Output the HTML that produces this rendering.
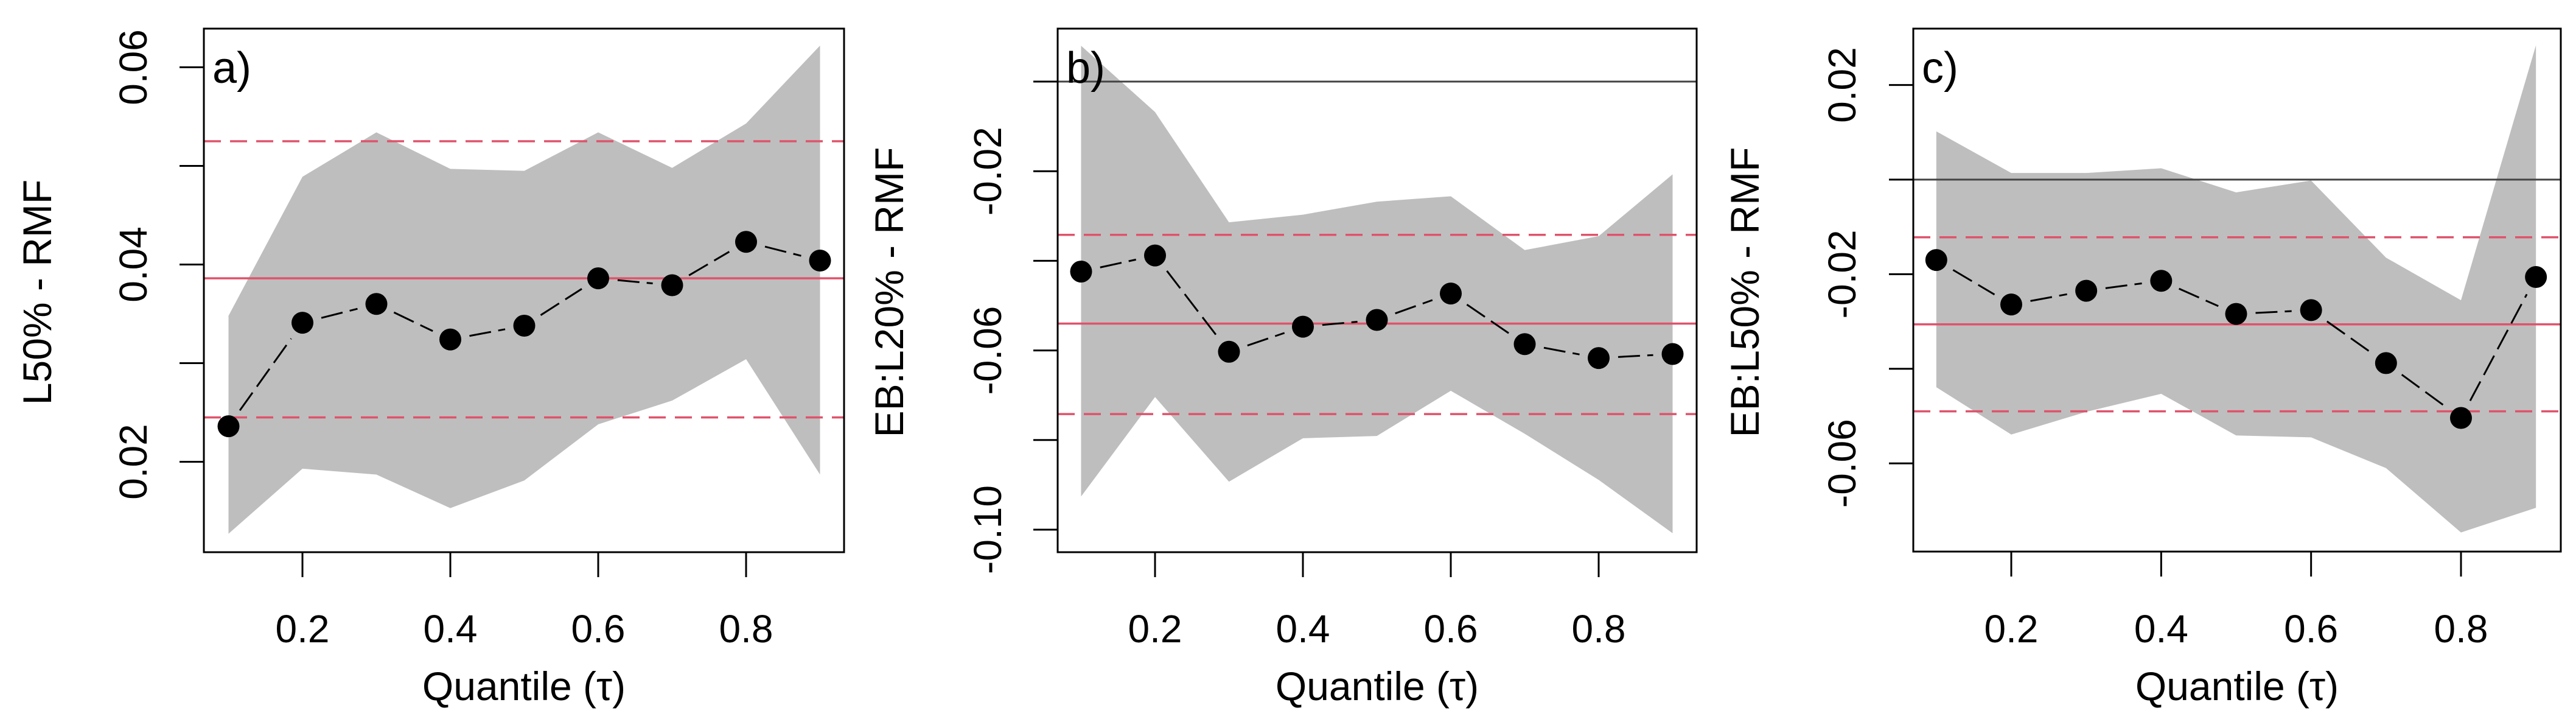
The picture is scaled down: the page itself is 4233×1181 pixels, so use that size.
<!DOCTYPE html>
<html><head><meta charset="utf-8"><style>
html,body{margin:0;padding:0;background:#fff;overflow:hidden}
svg{display:block;font-family:"Liberation Sans",Arial,sans-serif}
</style></head><body>
<svg id="fig" width="4233" height="1181" viewBox="0 0 4233 1181" xmlns="http://www.w3.org/2000/svg"></svg>
<script>
const quantiles=[0.1,0.2,0.3,0.4,0.5,0.6,0.7,0.8,0.9];
const xTickVals=[0.2,0.4,0.6,0.8];
const xTickLabels=["0.2","0.4","0.6","0.8"];
// panel a
const aEst=[0.0236,0.0341,0.0360,0.0324,0.0338,0.0386,0.0379,0.0423,0.0404];
const aUpper=[0.0348,0.0489,0.0534,0.0497,0.0495,0.0534,0.0498,0.0543,0.0622];
const aLower=[0.0127,0.0193,0.0187,0.0153,0.0181,0.0238,0.0262,0.0304,0.0187];
const aRef=[0.0386,0.0525,0.0245];
const aYTicks=[0.02,0.03,0.04,0.05,0.06];
const aYLabels=["0.02","","0.04","","0.06"];
// panel b
const bEst=[-0.0424,-0.0388,-0.0603,-0.0547,-0.0532,-0.0473,-0.0586,-0.0617,-0.0608];
const bUpper=[0.0080,-0.0068,-0.0314,-0.0297,-0.0268,-0.0256,-0.0376,-0.0345,-0.0207];
const bLower=[-0.0926,-0.0704,-0.0893,-0.0796,-0.0791,-0.0690,-0.0786,-0.0889,-0.1008];
const bRef=[-0.0540,-0.0342,-0.0742];
const bYTicks=[0,-0.02,-0.04,-0.06,-0.08,-0.10];
const bYLabels=["","-0.02","","-0.06","","-0.10"];
// panel c
const cEst=[-0.0170,-0.0264,-0.0235,-0.0214,-0.0284,-0.0276,-0.0388,-0.0504,-0.0206];
const cUpper=[0.0102,0.0014,0.0014,0.0024,-0.0027,-0.0002,-0.0165,-0.0255,0.0284];
const cLower=[-0.0439,-0.0539,-0.0491,-0.0453,-0.0541,-0.0545,-0.0610,-0.0746,-0.0694];
const cRef=[-0.0306,-0.0122,-0.0490];
const cYTicks=[0.02,0,-0.02,-0.04,-0.06];
const cYLabels=["0.02","","-0.02","","-0.06"];

const NS="http://www.w3.org/2000/svg";
const svg=document.getElementById('fig');
function mk(tag,attrs,parent){const e=document.createElementNS(NS,tag);for(const k in attrs)e.setAttribute(k,attrs[k]);(parent||svg).appendChild(e);return e;}

const panels=[
 {id:'a',label:'a)',title:'L50% - RMF',est:aEst,up:aUpper,lo:aLower,ref:aRef,yt:aYTicks,yl:aYLabels,
  box:[335,47,1387,907],x02:497,x08:1226,v0:0.04,p0:434.5,k:16200,zero:false,titleX:60,tickX:218},
 {id:'b',label:'b)',title:'EB:L20% - RMF',est:bEst,up:bUpper,lo:bLower,ref:bRef,yt:bYTicks,yl:bYLabels,
  box:[1738,47,2788,907],x02:1898,x08:2627,v0:0,p0:134,k:7360,zero:true,titleX:1460,tickX:1622},
 {id:'c',label:'c)',title:'EB:L50% - RMF',est:cEst,up:cUpper,lo:cLower,ref:cRef,yt:cYTicks,yl:cYLabels,
  box:[3144,47,4208,906],x02:3305,x08:4044,v0:0,p0:295,k:7769,zero:true,titleX:2866,tickX:3026}
];

panels.forEach(P=>{
 const g=mk('g',{});
 
 
 const [L,T,R,B]=P.box;
 const xs=v=>P.x02+(v-0.2)*(P.x08-P.x02)/0.6;
 const ys=v=>P.p0-(v-P.v0)*P.k;
 const clipId='clip'+P.id;
 const cp=mk('clipPath',{id:clipId},g); mk('rect',{x:L,y:T,width:R-L,height:B-T},cp);
 const inner=mk('g',{'clip-path':'url(#'+clipId+')'},g);
 let pts=quantiles.map((q,i)=>xs(q)+','+ys(P.up[i]));
 for(let i=quantiles.length-1;i>=0;i--)pts.push(xs(quantiles[i])+','+ys(P.lo[i]));
 const band=mk('polygon',{points:pts.join(' '),fill:'#bebebe'},inner);
 
 
 if(P.zero){const z=mk('line',{x1:L-40,x2:R,y1:ys(0),y2:ys(0),stroke:'#444','stroke-width':3},g);
  }
 const rs=mk('line',{x1:L,x2:R,y1:ys(P.ref[0]),y2:ys(P.ref[0]),stroke:'#df536b','stroke-width':3.5},inner);
 
 [1,2].forEach(j=>{const d=mk('line',{x1:L,x2:R,y1:ys(P.ref[j]),y2:ys(P.ref[j]),stroke:'#df536b','stroke-width':3.5,'stroke-dasharray':'28 15'},inner);
  });
 for(let i=0;i<quantiles.length-1;i++){
  const x1=xs(quantiles[i]),y1=ys(P.est[i]),x2=xs(quantiles[i+1]),y2=ys(P.est[i+1]);
  const dx=x2-x1,dy=y2-y1,len=Math.hypot(dx,dy),gap=32;
  if(len>2*gap){const s=mk('line',{x1:x1+dx*gap/len,y1:y1+dy*gap/len,x2:x2-dx*gap/len,y2:y2-dy*gap/len,stroke:'#000','stroke-width':3,'stroke-dasharray':'36 12'},g);
   }
 }
 quantiles.forEach((q,i)=>{const c=mk('circle',{cx:xs(q),cy:ys(P.est[i]),r:18,fill:'#000'},g);
  });
 const bx=mk('rect',{x:L,y:T,width:R-L,height:B-T,fill:'none',stroke:'#000','stroke-width':3},g);
 
 xTickVals.forEach((v,i)=>{mk('line',{x1:xs(v),x2:xs(v),y1:B,y2:B+41,stroke:'#000','stroke-width':3},g);
  const t=mk('text',{x:xs(v),y:1055,'font-size':64,'text-anchor':'middle',fill:'#000'},g);t.textContent=xTickLabels[i];
  });
 P.yt.forEach((v,i)=>{mk('line',{x1:L-40,x2:L,y1:ys(v),y2:ys(v),stroke:'#000','stroke-width':3},g);
  if(P.yl[i]){const t=mk('text',{x:P.tickX,y:ys(v),'font-size':64,'text-anchor':'middle',fill:'#000',transform:'rotate(-90 '+P.tickX+' '+ys(v)+')',dy:'0.36em'},g);t.textContent=P.yl[i];
   }});
 const xt=mk('text',{x:(L+R)/2,y:1150,'font-size':66,'text-anchor':'middle',fill:'#000'},g);xt.textContent='Quantile (τ)';
 
 const cy=480;
 const yt=mk('text',{x:P.titleX,y:cy,'font-size':66,'text-anchor':'middle',fill:'#000',dy:'0.36em',transform:'rotate(-90 '+P.titleX+' '+cy+')'},g);yt.textContent=P.title;
 
 const pl=mk('text',{x:L+14,y:136,'font-size':72,fill:'#000'},g);pl.textContent=P.label;
 
});
</script>
</body></html>
